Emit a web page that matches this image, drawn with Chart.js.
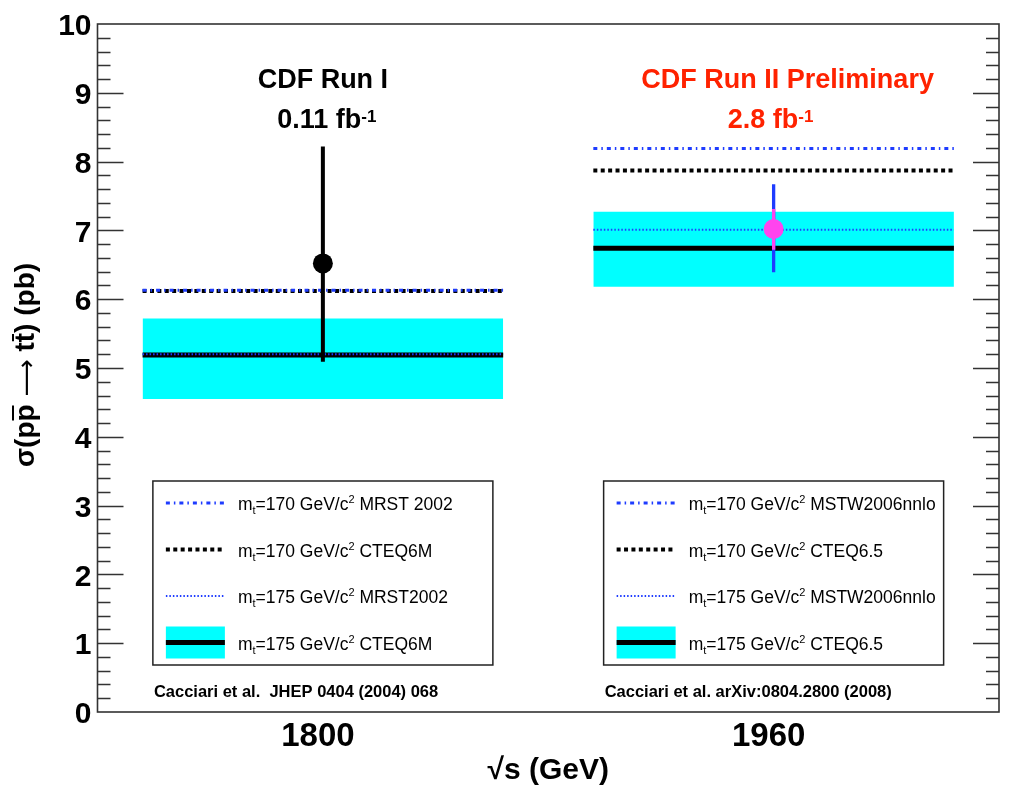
<!DOCTYPE html>
<html><head><meta charset="utf-8">
<script src="https://cdn.jsdelivr.net/npm/chart.js@4/dist/chart.umd.min.js"></script>
<style>html,body{margin:0;padding:0;background:#fff}canvas{display:block}</style>
</head><body>
<canvas id="c" width="1009" height="791"></canvas>
<script>
// ---------------- data ----------------
const energies = [1800, 1960];
const xTickLabels = ['1800', '1960'];
const yTicks = [0, 1, 2, 3, 4, 5, 6, 7, 8, 9, 10];
const bandXmin = [1736, 1896];
const bandXmax = [1864, 2024];
const runTitles = ['CDF Run I', 'CDF Run II Preliminary'];
const runLumi = ['0.11 fb', '2.8 fb'];
const massTop = [170, 170, 175, 175];
const pdfRunI = ['MRST 2002', 'CTEQ6M', 'MRST2002', 'CTEQ6M'];
const pdfRunII = ['MSTW2006nnlo', 'CTEQ6.5', 'MSTW2006nnlo', 'CTEQ6.5'];
const citations = ['Cacciari et al.  JHEP 0404 (2004) 068', 'Cacciari et al. arXiv:0804.2800 (2008)'];
const mrst170 = [6.13, 8.19];
const cteq170 = [6.12, 7.87];
const mrst175 = [5.20, 7.01];
const cteq175 = [5.19, 6.74];
const cteq175Low = [4.55, 6.18];
const cteq175High = [5.72, 7.27];
const xsMeasured = [6.52, 7.02];
const xsTotLow = [5.09, 6.39];
const xsTotHigh = [8.22, 7.67];
const xsStatLow = [null, 6.72];
const xsStatHigh = [null, 7.31];

// ---------------- styles ----------------
const FONT = "'Liberation Sans', Arial, Helvetica, sans-serif";
const BLUE = '#1e3cff', CYAN = '#00ffff', MAG = '#ff44ee', RED = '#ff2200';
const totColor = ['#000000', BLUE];
const statColor = ['#000000', MAG];
const titleColor = ['#000000', RED];
const titleDx = [0, 14];
const lumiDx = [4, -3];

const lineStyles = [
  {color: BLUE, width: 3, dash: [4, 4, 1.5, 4]},   // 170 MRST/MSTW
  {color: '#000', width: 4, dash: [4, 3.4]},        // 170 CTEQ
  {color: BLUE, width: 2, dash: [1.5, 2]},          // 175 MRST/MSTW
  {color: '#000', width: 5, dash: []}               // 175 CTEQ (band)
];

function seg(x0, x1, y) { return [{x: x0, y: y}, {x: x1, y: y}]; }
const datasets = [];
energies.forEach((e, i) => {
  datasets.push({label: 'band-hi', data: seg(bandXmin[i], bandXmax[i], cteq175High[i]), borderWidth: 0, pointRadius: 0, fill: '+1', backgroundColor: CYAN, order: 60});
  datasets.push({label: 'band-lo', data: seg(bandXmin[i], bandXmax[i], cteq175Low[i]), borderWidth: 0, pointRadius: 0, fill: false, order: 61});
  const vals = [mrst170[i], cteq170[i], mrst175[i], cteq175[i]];
  const ord = [37, 38, 39, 40];
  vals.forEach((v, k) => {
    const s = lineStyles[k];
    datasets.push({label: 'th' + k, data: seg(bandXmin[i], bandXmax[i], v), borderColor: s.color, borderWidth: s.width, borderDash: s.dash, pointRadius: 0, fill: false, order: ord[k]});
  });
  datasets.push({label: 'tot', data: [{x: e, y: xsTotLow[i]}, {x: e, y: xsTotHigh[i]}], borderColor: totColor[i], borderWidth: i === 0 ? 4 : 3.3, pointRadius: 0, fill: false, order: 20});
  if (xsStatLow[i] !== null) {
    datasets.push({label: 'stat', data: [{x: e, y: xsStatLow[i]}, {x: e, y: xsStatHigh[i]}], borderColor: statColor[i], borderWidth: 3.3, pointRadius: 0, fill: false, order: 19});
  }
  datasets.push({label: 'meas', data: [{x: e, y: xsMeasured[i]}], showLine: false, pointRadius: 10, pointBorderWidth: 0, pointBackgroundColor: statColor[i], pointBorderColor: statColor[i], order: 10});
});

function drawRich(ctx, parts, x, y, align, color) {
  let total = 0;
  parts.forEach(p => { ctx.font = (p.weight || 'normal') + ' ' + p.size + 'px ' + (p.family || FONT); p.w = ctx.measureText(p.t).width; total += p.w; });
  let cx = align === 'center' ? x - total / 2 : x;
  ctx.fillStyle = color;
  ctx.textAlign = 'left';
  ctx.textBaseline = 'alphabetic';
  parts.forEach(p => { ctx.font = (p.weight || 'normal') + ' ' + p.size + 'px ' + (p.family || FONT); ctx.fillText(p.t, cx, y + (p.dy || 0)); p.x = cx; cx += p.w; });
  return parts;
}

const decorPlugin = {
  id: 'decor',
  afterDatasetsDraw(chart) {
    const ctx = chart.ctx, a = chart.chartArea, ys = chart.scales.y, xs = chart.scales.x;
    ctx.save();
    // frame
    ctx.strokeStyle = '#333'; ctx.lineWidth = 1.6; ctx.setLineDash([]);
    ctx.strokeRect(a.left, a.top, a.right - a.left, a.bottom - a.top);
    // inward ticks
    ctx.lineWidth = 1.4;
    for (let k = 1; k < 50; k++) {
      const v = k / 5, py = Math.round(ys.getPixelForValue(v)) + 0.5;
      const len = (k % 5 === 0) ? 26 : 13;
      ctx.beginPath();
      ctx.moveTo(a.left, py); ctx.lineTo(a.left + len, py);
      ctx.moveTo(a.right, py); ctx.lineTo(a.right - len, py);
      ctx.stroke();
    }
    // titles
    energies.forEach((e, i) => {
      const cx = xs.getPixelForValue(e);
      drawRich(ctx, [{t: runTitles[i], size: 27, weight: 'bold'}], cx + titleDx[i], 88, 'center', titleColor[i]);
      drawRich(ctx, [{t: runLumi[i], size: 27, weight: 'bold'}, {t: '-1', size: 17, weight: 'bold', dy: -6}], cx + lumiDx[i], 128, 'center', titleColor[i]);
    });
    // legend boxes
    energies.forEach((e, i) => {
      const cx = xs.getPixelForValue(e);
      const bl = cx - 170, br = cx + 170, bt = a.bottom - 231, bb = a.bottom - 47;
      ctx.fillStyle = '#fff';
      ctx.fillRect(bl, bt, br - bl, bb - bt);
      ctx.strokeStyle = '#222'; ctx.lineWidth = 1.5; ctx.setLineDash([]);
      ctx.strokeRect(bl, bt, br - bl, bb - bt);
      const pdfs = i === 0 ? pdfRunI : pdfRunII;
      for (let r = 0; r < 4; r++) {
        const ry = bt + 22 + r * 46.5;
        const s = lineStyles[r];
        const sx0 = bl + 13, sx1 = bl + 72;
        if (r === 3) {
          ctx.fillStyle = CYAN;
          ctx.fillRect(sx0, ry - 16, sx1 - sx0, 32);
        }
        ctx.strokeStyle = s.color; ctx.lineWidth = s.width; ctx.setLineDash(s.dash);
        ctx.beginPath(); ctx.moveTo(sx0, ry); ctx.lineTo(sx1, ry); ctx.stroke();
        ctx.setLineDash([]);
        drawRich(ctx, [
          {t: 'm', size: 17.5}, {t: 't', size: 11, dy: 4},
          {t: '=' + massTop[r] + ' GeV/c', size: 17.5}, {t: '2', size: 11, dy: -7},
          {t: ' ' + pdfs[r], size: 17.5}
        ], bl + 85, ry + 7, 'left', '#000');
      }
      drawRich(ctx, [{t: citations[i], size: 16.5, weight: 'bold'}], bl + 1, a.bottom - 15, 'left', '#000');
    });
    // y-axis title with overlines
    ctx.save();
    ctx.translate(34, 365);
    ctx.rotate(-Math.PI / 2);
    const parts = [
      {t: 'σ(p', size: 28, weight: 'bold'}, {t: 'p', size: 28, weight: 'bold', bar: true},
      {t: ' ', size: 28, weight: 'bold'},
      {t: '⟶', size: 26, weight: 'normal', family: "'DejaVu Sans', sans-serif", dy: 1},
      {t: ' ', size: 28, weight: 'bold'}, {t: 't', size: 28, weight: 'bold'},
      {t: 't', size: 28, weight: 'bold', bar: true}, {t: ') (pb)', size: 28, weight: 'bold'}
    ];
    drawRich(ctx, parts, 0, 0, 'center', '#000');
    ctx.strokeStyle = '#000'; ctx.lineWidth = 2;
    parts.forEach(p => { if (p.bar) { ctx.beginPath(); ctx.moveTo(p.x + 1, -21); ctx.lineTo(p.x + p.w - 1, -21); ctx.stroke(); } });
    ctx.restore();
    ctx.restore();
  }
};

new Chart(document.getElementById('c'), {
  type: 'line',
  data: {datasets: datasets},
  options: {
    responsive: false, animation: false, devicePixelRatio: 1,
    layout: {padding: {left: 0, right: 8, top: 20, bottom: 0}},
    plugins: {legend: {display: false}, tooltip: {enabled: false}},
    elements: {line: {tension: 0}},
    scales: {
      x: {
        type: 'linear', min: 1720, max: 2040,
        afterBuildTicks: s => { s.ticks = energies.map(v => ({value: v})); },
        afterFit: s => { s.height = 79; },
        ticks: {callback: v => xTickLabels[energies.indexOf(v)], font: {family: FONT, weight: 'bold', size: 33}, color: '#000', padding: 5, labelOffset: -5, maxRotation: 0, autoSkip: false},
        grid: {display: false, drawTicks: false}, border: {display: false},
        title: {display: true, text: '√s (GeV)', font: {family: FONT, weight: 'bold', size: 30}, color: '#000', padding: {top: 0, bottom: 2}}
      },
      y: {
        min: 0, max: 10,
        afterBuildTicks: s => { s.ticks = yTicks.map(v => ({value: v})); },
        afterFit: s => { s.width = 97.5; },
        ticks: {font: {family: FONT, weight: 'bold', size: 30}, color: '#000', padding: 6, labelOffset: 3},
        grid: {display: false, drawTicks: false}, border: {display: false}
      }
    }
  },
  plugins: [decorPlugin]
});
</script>
</body></html>
